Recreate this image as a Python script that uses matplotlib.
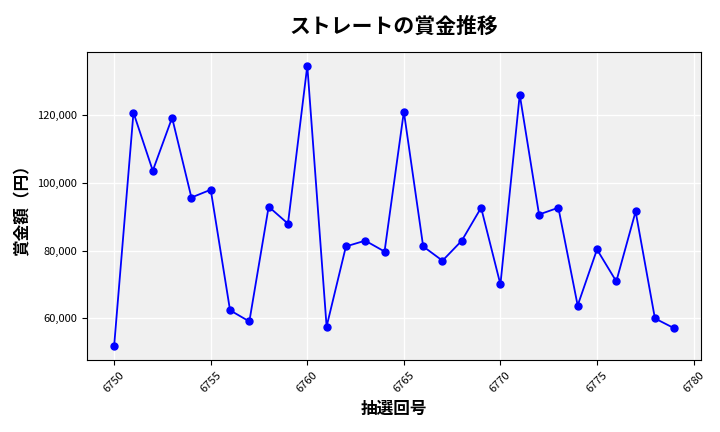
import matplotlib
matplotlib.use("Agg")
import matplotlib.pyplot as plt
from matplotlib.ticker import FuncFormatter

plt.rcParams['font.family'] = ['Noto Sans CJK JP', 'DejaVu Sans']

draws = list(range(6750, 6780))
prizes = [52000, 120600, 103500, 119100, 95600, 97900, 62400, 59100, 92900, 87900,
          134400, 57600, 81200, 82900, 79700, 120900, 81200, 77000, 82900, 92600,
          70000, 125900, 90600, 92600, 63800, 80300, 70900, 91500, 60000, 57100]

fig = plt.figure(figsize=(7.2, 4.32), dpi=100)
ax = fig.add_axes([0.121, 0.167, 0.853, 0.713])
ax.set_facecolor('#f0f0f0')
ax.grid(True, color='white', linewidth=1)
ax.set_axisbelow(True)
ax.plot(draws, prizes, color='blue', marker='o', markersize=5, linewidth=1.3)
ax.set_xlim(6748.6, 6780.4)
ax.set_ylim(47800, 138500)
ax.set_xticks(range(6750, 6781, 5))
ax.yaxis.set_major_formatter(FuncFormatter(lambda v, p: f'{int(v):,}'))
ax.tick_params(axis='x', labelrotation=45, labelsize=8)
ax.tick_params(axis='y', labelsize=8)
ax.set_title('ストレートの賞金推移', fontsize=15, fontweight='bold', pad=14)
ax.set_xlabel('抽選回号', fontsize=12, fontweight='bold')
ax.set_ylabel('賞金額（円）', fontsize=12, fontweight='bold')
fig.savefig('out.png', dpi=100)
